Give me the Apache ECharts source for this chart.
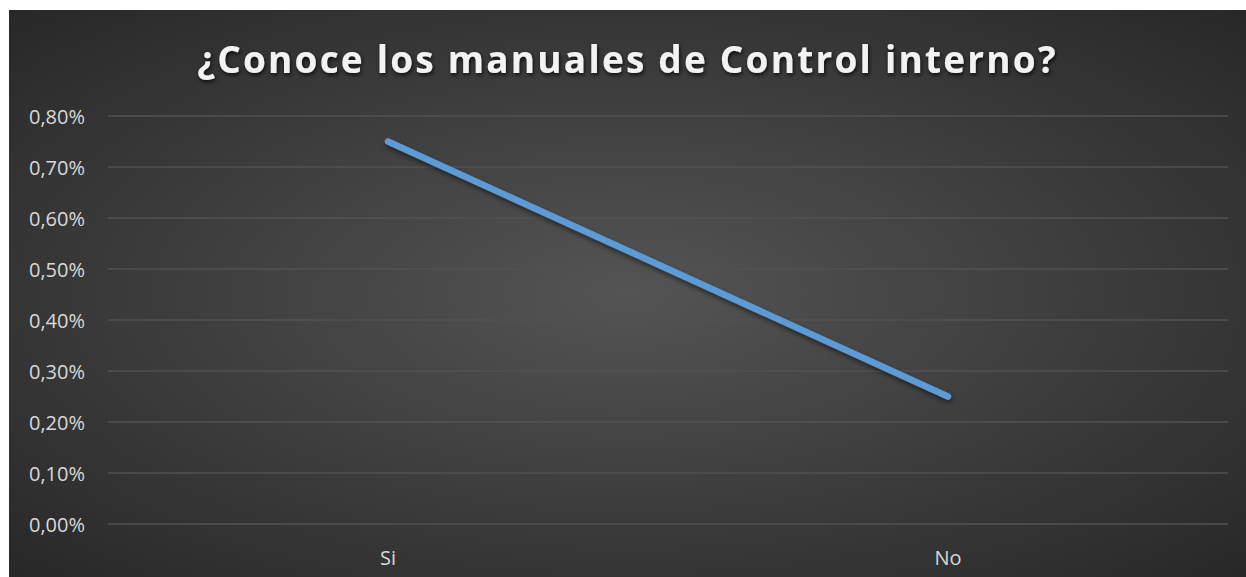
<!DOCTYPE html>
<html>
<head>
<meta charset="utf-8">
<script src="https://cdn.jsdelivr.net/npm/echarts@6/dist/echarts.min.js"></script>
<style>
  html, body { margin: 0; padding: 0; background: #ffffff; }
  #chart { position: absolute; left: 9px; top: 10px; width: 1237px; height: 567px; }
</style>
</head>
<body>
<div id="chart"></div>
<script>
const titleText = '¿Conoce los manuales de Control interno?';
const categories = ['Si', 'No'];
const values = [0.0075, 0.0025];
const yMin = 0, yMax = 0.008, yStep = 0.001;

const chart = echarts.init(document.getElementById('chart'), null, { renderer: 'svg' });
const fmt = v => (v * 100).toFixed(2).replace('.', ',') + '%';

chart.setOption({
  animation: false,
  backgroundColor: {
    type: 'radial', x: 0.5, y: 0.5, r: 0.75,
    colorStops: [
      { offset: 0, color: '#545454' },
      { offset: 1, color: '#252525' }
    ]
  },
  title: {
    text: titleText,
    left: 'center',
    top: 25,
    textStyle: {
      color: '#f2f2f2',
      fontFamily: 'Open Sans',
      fontWeight: 'bold',
      fontSize: 37,
      textShadowColor: 'rgba(0,0,0,0.8)',
      textShadowBlur: 4,
      textShadowOffsetX: 1,
      textShadowOffsetY: 2
    }
  },
  grid: { left: 99, right: 18, top: 106, bottom: 53, containLabel: false },
  xAxis: {
    type: 'category',
    data: categories,
    boundaryGap: true,
    axisLine: { show: false },
    axisTick: { show: false },
    axisLabel: { color: '#d9d9d9', fontFamily: 'Open Sans', fontSize: 20, margin: 23 }
  },
  yAxis: {
    type: 'value',
    min: yMin, max: yMax, interval: yStep,
    axisLine: { show: false },
    axisTick: { show: false },
    axisLabel: { color: '#d9d9d9', fontFamily: 'Open Sans', fontSize: 20, margin: 23, formatter: fmt },
    splitLine: { lineStyle: { color: '#525252', width: 1.5 } }
  },
  series: [{
    type: 'line',
    data: values,
    symbol: 'none',
    lineStyle: {
      color: '#5b9bd5', width: 6.5, cap: 'round',
      shadowColor: 'rgba(0,0,0,0.5)', shadowBlur: 5, shadowOffsetX: 1, shadowOffsetY: 3
    }
  }]
});

// widen the title's letter spacing like the original
document.querySelectorAll('#chart svg text').forEach(t => {
  if (t.textContent === titleText) {
    t.setAttribute('letter-spacing', '2.2px');
    t.style.letterSpacing = '2.2px';
  }
});
</script>
</body>
</html>
